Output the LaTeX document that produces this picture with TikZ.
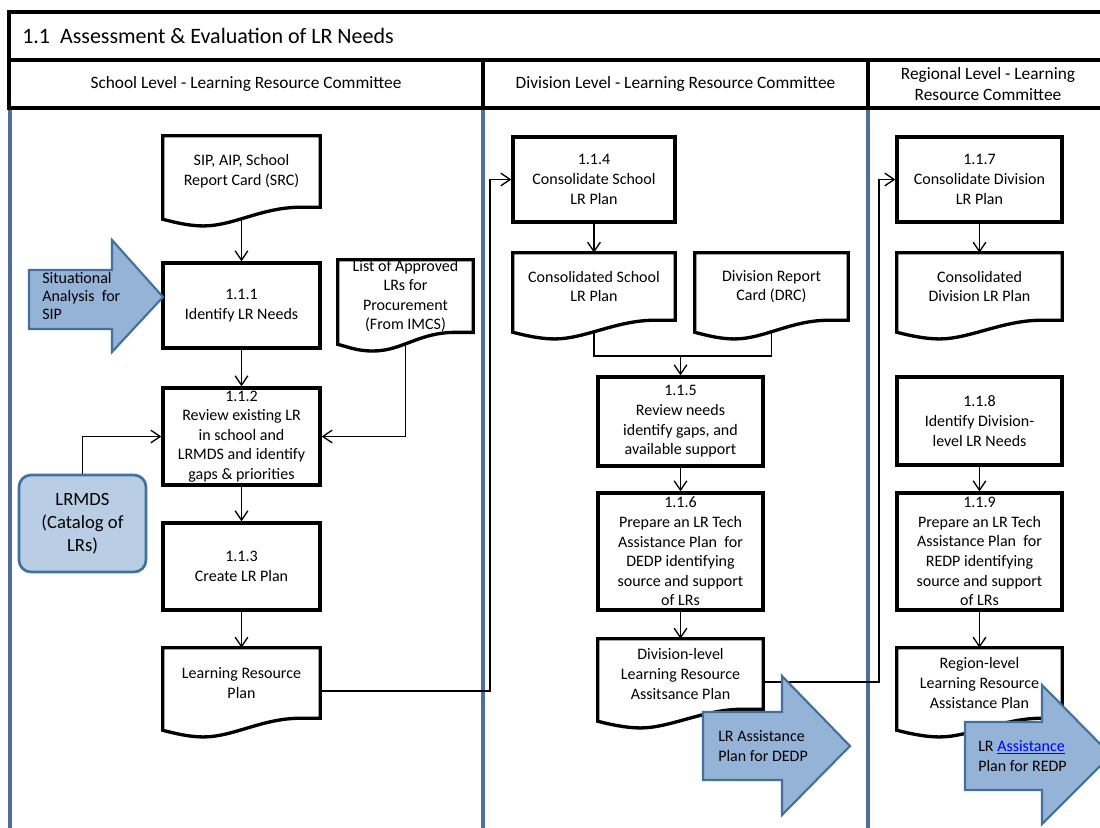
\documentclass[tikz,border=0pt]{standalone}
\usepackage{fontspec}
\setmainfont{Carlito}
\usepackage{tikz}
\usetikzlibrary{calc,backgrounds,arrows.meta}
\usetikzlibrary{positioning}
\usepackage{xcolor}
\definecolor{laneblue}{HTML}{4F6EA0}
\definecolor{arrowfill}{HTML}{95B3D7}
\definecolor{arrowline}{HTML}{41719C}
\definecolor{catfill}{HTML}{B9CDE5}
\definecolor{linkblue}{HTML}{0000FF}
\pgfdeclarelayer{background}
\pgfdeclarelayer{docs}
\pgfsetlayers{background,docs,main}
\tikzstyle{lrflow}=[
  >={Straight Barb[length=7pt,width=9.5pt]}, x=0.75pt, y=-0.75pt,
  font=\fontsize{12}{14.7}\selectfont
]
\tikzstyle{procbox}=[
  draw, line width=2.5pt, inner sep=0pt, align=center
]
\tikzstyle{docnode}=[
  inner sep=0pt, align=center
]
\tikzstyle{docline}=[
  line width=2.5pt, fill=white, line join=miter
]
\tikzstyle{schoolw}=[minimum width=117.75pt]
\tikzstyle{lanew}=[minimum width=123.75pt]
\tikzstyle{conn}=[
  ->, line width=1pt
]
\tikzstyle{plainconn}=[
  line width=1pt
]
\tikzstyle{lane}=[
  line width=2.3pt, laneblue
]
\tikzstyle{hdrline}=[
  line width=2.3pt
]
\tikzstyle{hdrtext}=[
  align=center, font=\fontsize{13}{15.75}\selectfont
]
\tikzstyle{bigarrow}=[
  fill=arrowfill, draw=arrowline, line width=1.6pt, line join=miter
]
\tikzstyle{catbox}=[
  draw=arrowline, fill=catfill, line width=2pt, rounded corners=9pt, align=center,
  inner sep=0pt, font=\fontsize{14}{17.25}\selectfont
]
% wavy "document" outline round a named node
\newcommand{\docframe}[1]{%
  \begin{pgfonlayer}{docs}
  \draw[docline] (#1.north west) -- (#1.north east) -- (#1.south east)
    -- ($(#1.south east)!0.13!(#1.south west)$)
    .. controls +(-28pt,0pt) and +(22pt,0pt) .. ($(#1.south west)!0.26!(#1.south east)+(0pt,-14pt)$)
    .. controls +(-12pt,0pt) and +(8pt,-2pt) .. ($(#1.south west)+(0pt,-9pt)$) -- cycle;
  \end{pgfonlayer}}

\begin{document}
\begin{tikzpicture}[lrflow]
  \useasboundingbox (0,0) rectangle (1100,828);
  % header
  \draw[hdrline] (9,12) rectangle (1108,108);
  \draw[hdrline] (9,60) -- (1108,60);
  \draw[hdrline] (483,60) -- (483,108);
  \draw[hdrline] (868,60) -- (868,108);
  \node (title) at (22,36) [anchor=west, inner sep=0pt, font=\fontsize{16.5}{19}\selectfont] {1.1\ \ Assessment \& Evaluation of LR Needs};
  \node (school) at (246,84) [hdrtext] {School Level - Learning Resource Committee};
  \node (division) at (675.5,84) [hdrtext] {Division Level - Learning Resource Committee};
  \node (region) at (988,84) [hdrtext] {Regional Level - Learning\\Resource Committee};

  % school level
  \node (sip) at (241.5,171.5) [docnode, schoolw, minimum height=53.25pt] {SIP, AIP, School\\Report Card (SRC)};
  \node (n111) at (241.5,305.5) [procbox, schoolw, minimum height=63.75pt] {1.1.1\\Identify LR Needs};
  \node (list) at (405.5,296) [docnode, minimum width=101.25pt, minimum height=49.5pt] {List of Approved\\LRs for\\Procurement\\(From IMCS)};
  \node (n112) at (241.5,436.5) [procbox, schoolw, minimum height=72.75pt] {1.1.2\\Review existing LR\\in school and\\LRMDS and identify\\gaps \& priorities};
  \node (lrmds) at (82.5,523.5) [catbox, minimum width=95.25pt, minimum height=72.75pt] {LRMDS\\(Catalog of\\LRs)};
  \node (n113) at (241.5,566.5) [procbox, schoolw, minimum height=65.25pt] {1.1.3\\Create LR Plan};
  \node (lrp) at (241.5,683) [docnode, schoolw, minimum height=52.5pt] {Learning Resource\\Plan};

  % division level
  \node (n114) at (594,179.5) [procbox, minimum width=121.5pt, minimum height=63.75pt] {1.1.4\\Consolidate School\\LR Plan};
  \node (cons) at (594,286.5) [docnode, minimum width=121.5pt, minimum height=50.25pt] {Consolidated School\\LR Plan};
  \node (drc) at (771.5,286.5) [docnode, minimum width=114.75pt, minimum height=50.25pt] {Division Report\\Card (DRC)};
  \node (n115) at (680.5,421.5) [procbox, lanew, minimum height=66.75pt] {1.1.5\\Review needs\\identify gaps, and\\available support};
  \node (n116) at (680.5,551.5) [procbox, lanew, minimum height=87.75pt] {1.1.6\\Prepare an LR Tech\\Assistance Plan\ \ for\\DEDP identifying\\source and support\\of LRs};
  \node (dlrap) at (680.5,674) [docnode, lanew, minimum height=52.5pt] {Division-level\\Learning Resource\\Assitsance Plan};

  % regional level
  \node (n117) at (979.5,179.5) [procbox, lanew, minimum height=63.75pt] {1.1.7\\Consolidate Division\\LR Plan};
  \node (cdiv) at (979.5,286.5) [docnode, lanew, minimum height=50.25pt] {Consolidated\\Division LR Plan};
  \node (n118) at (979.5,421) [procbox, lanew, minimum height=66pt] {1.1.8\\Identify Division-\\level LR Needs};
  \node (n119) at (979.5,551.5) [procbox, lanew, minimum height=87.75pt] {1.1.9\\Prepare an LR Tech\\Assistance Plan\ \ for\\REDP identifying\\source and support\\of LRs};
  \node (rlrap) at (979.5,683) [docnode, lanew, minimum height=52.5pt] {Region-level\\Learning Resource\\Assistance Plan};

  \docframe{sip}
  \docframe{list}
  \docframe{lrp}
  \docframe{cons}
  \docframe{drc}
  \docframe{dlrap}
  \docframe{cdiv}
  \docframe{rlrap}

  \coordinate (bend1) at (490,691);
  \coordinate (bend2) at (879,682);
  \coordinate (merge) at (680.5,356);
  \begin{scope}[on background layer]
    \draw[lane] (10,108) -- (10,828);
    \draw[lane] (483,108) -- (483,828);
    \draw[lane] (868,108) -- (868,828);
    \draw[conn] (sip) -- (n111);
    \draw[conn] (n111) -- (n112);
    \draw[conn] (n112) -- (n113);
    \draw[conn] (n113) -- (lrp);
    \draw[conn] (list.south) |- (n112.east);
    \draw[conn] (lrmds.north) |- (n112.west);
    \draw[conn] (lrp.east |- bend1) -- (bend1) |- (n114.west);
    \draw[conn] (n114) -- (cons);
    \draw[plainconn] (cons.south) |- (merge) -| (drc.south);
    \draw[conn] (merge) -- (n115);
    \draw[conn] (n115) -- (n116);
    \draw[conn] (n116) -- (dlrap);
    \draw[conn] (dlrap.east |- bend2) -- (bend2) |- (n117.west);
    \draw[conn] (n117) -- (cdiv);
    \draw[conn] (n118) -- (n119);
    \draw[conn] (n119) -- (rlrap);
  \end{scope}

  % block arrows
  \draw[bigarrow] (29,270) -- (112,270) -- (112,240) -- (163,297) -- (112,352) -- (112,329) -- (29,329) -- cycle;
  \node (sitan) at (42,296) [anchor=west, align=left, inner sep=0pt, font=\fontsize{12}{13.5}\selectfont] {Situational\\Analysis\ \ for\\SIP};
  \draw[bigarrow] (703,712) -- (782,712) -- (782,676) -- (850,746) -- (782,815) -- (782,780) -- (703,780) -- cycle;
  \node (dedp) at (718,746) [anchor=west, align=left, inner sep=0pt] {LR Assistance\\Plan for DEDP};
  \draw[bigarrow] (965,722) -- (1042,722) -- (1042,685) -- (1111,755) -- (1042,824) -- (1042,790) -- (965,790) -- cycle;
  \node (redp) at (978,756) [anchor=west, align=left, inner sep=0pt] {LR {\color{linkblue}\underline{Assistance}}\\Plan for REDP};
\end{tikzpicture}
\end{document}
